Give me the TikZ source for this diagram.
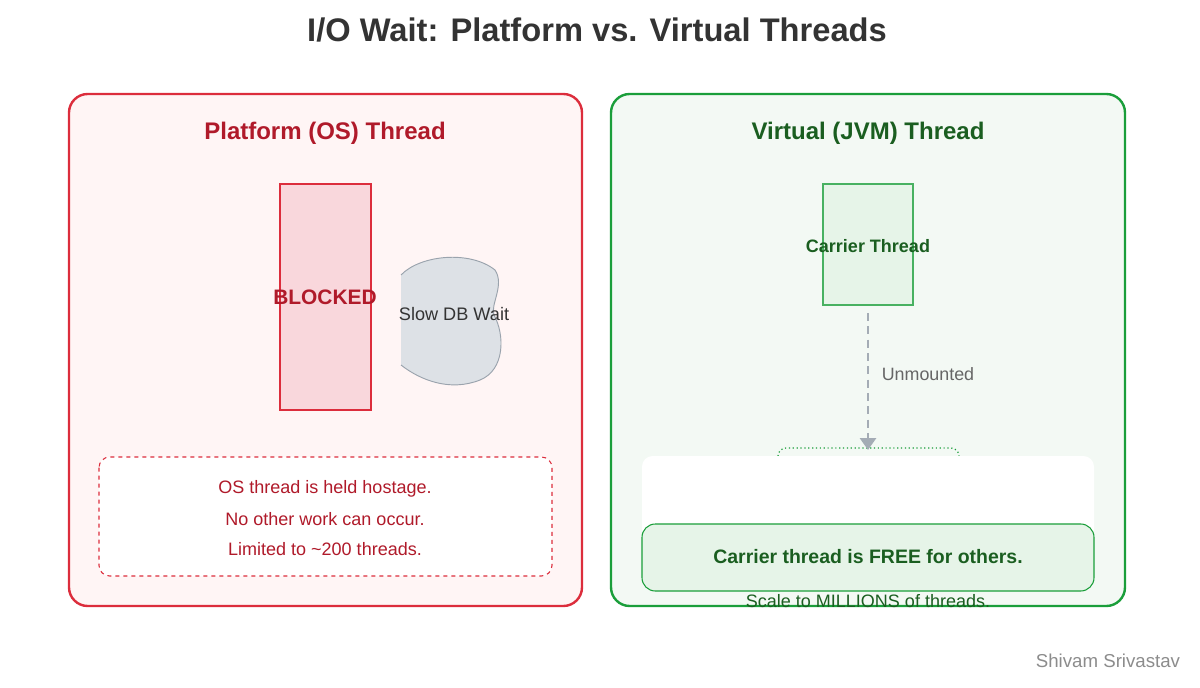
\documentclass[tikz,border=0pt]{standalone}
\usepackage{fontspec}
\setmainfont{Liberation Sans}
\usetikzlibrary{arrows.meta}
\definecolor{redline}{HTML}{DC2D3C}
\definecolor{redtext}{HTML}{B01A2A}
\definecolor{redfill}{HTML}{FFF5F5}
\definecolor{blockfill}{HTML}{F9D7DC}
\definecolor{greenline}{HTML}{1A9E3A}
\definecolor{greentext}{HTML}{1A5E20}
\definecolor{greenfill}{HTML}{F3F9F4}
\definecolor{carrierfill}{HTML}{E6F4E8}
\definecolor{cloudfill}{HTML}{DDE1E6}
\definecolor{cloudline}{HTML}{9AA3AD}
\tikzset{
  panel/.style={rounded corners=14pt, line width=1.8pt},
  ptitle/.style={font=\bfseries\fontsize{18}{21}\selectfont},
  note/.style={font=\fontsize{13.5}{16}\selectfont, text=redtext}
}
\begin{document}
\begin{tikzpicture}[x=0.75pt,y=-0.75pt]
 \useasboundingbox (0,0) rectangle (1200,688);
 \node (title) at (597,30) [text=black!80, font=\bfseries\fontsize{24.5}{29}\selectfont] {I/O Wait: Platform vs. Virtual Threads};
 % left side
 \draw [panel, draw=redline, fill=redfill] (69,94) rectangle (582,606);
 \node (ltitle) at (325,133) [ptitle, text=redtext] {Platform (OS) Thread};
 \draw [fill=blockfill, draw=redline, line width=0.9pt] (280,184) rectangle (371,410);
 \node (blocked) at (325,297) [text=redtext, font=\bfseries\fontsize{15.7}{18}\selectfont] {BLOCKED};
 \fill [cloudfill] (401,275) .. controls (420,255) and (470,250) .. (495,270)
   .. controls (505,285) and (490,305) .. (494,315)
   .. controls (505,335) and (505,370) .. (480,380)
   .. controls (450,392) and (420,380) .. (401,365) -- cycle;
 \draw [cloudline, line width=0.7pt] (401,275) .. controls (420,255) and (470,250) .. (495,270)
   .. controls (505,285) and (490,305) .. (494,315)
   .. controls (505,335) and (505,370) .. (480,380)
   .. controls (450,392) and (420,380) .. (401,365);
 \node (wait) at (454,314) [text=black!80, font=\fontsize{13.6}{16}\selectfont] {Slow DB Wait};
 \draw [draw=redline, fill=white, dashed, rounded corners=8pt, line width=0.8pt] (99,457) rectangle (552,576);
 \node (n1) at (325,489) [note] {OS thread is held hostage.};
 \node (n2) at (325,519) [note] {No other work can occur.};
 \node (n3) at (325,549) [note] {Limited to \textasciitilde200 threads.};
 % right side
 \draw [panel, draw=greenline, fill=greenfill] (611,94) rectangle (1125,606);
 \node (rtitle) at (868,133) [ptitle, text=greentext] {Virtual (JVM) Thread};
 \draw [fill=carrierfill, draw=greenline!80, line width=0.8pt] (823,184) rectangle (913,305);
 \node (carrier) at (868,246) [text=greentext, font=\bfseries\fontsize{13.5}{16}\selectfont] {Carrier Thread};
 \draw [greenline, dotted, line width=0.9pt, rounded corners=6pt] (778,460) -- (778,448) -- (959,448) -- (959,460);
 \coordinate (top) at (868,313);
 \coordinate (bot) at (868,450);
 \draw [cloudline!90, line width=2.2pt, dash pattern=on 6pt off 4pt, -{Triangle[width=12pt,length=9pt]}] (top) -- (bot);
 \node (unm) at (928,374) [text=black!60, font=\fontsize{13.4}{16}\selectfont] {Unmounted};
 \fill [white, rounded corners=8pt] (642,456) rectangle (1094,540);
 \draw [draw=greenline, fill=carrierfill, rounded corners=10pt, line width=0.8pt] (642,524) rectangle (1094,591);
 \node (free) at (868,557) [text=greentext, font=\bfseries\fontsize{14.6}{17}\selectfont] {Carrier thread is FREE for others.};
 \node (scale) at (868,601) [text=greentext, font=\fontsize{13.5}{16}\selectfont] {Scale to MILLIONS of threads.};
 \node (auth) at (1108,661) [text=black!45, font=\fontsize{14}{17}\selectfont] {Shivam Srivastav};
\end{tikzpicture}
\end{document}
